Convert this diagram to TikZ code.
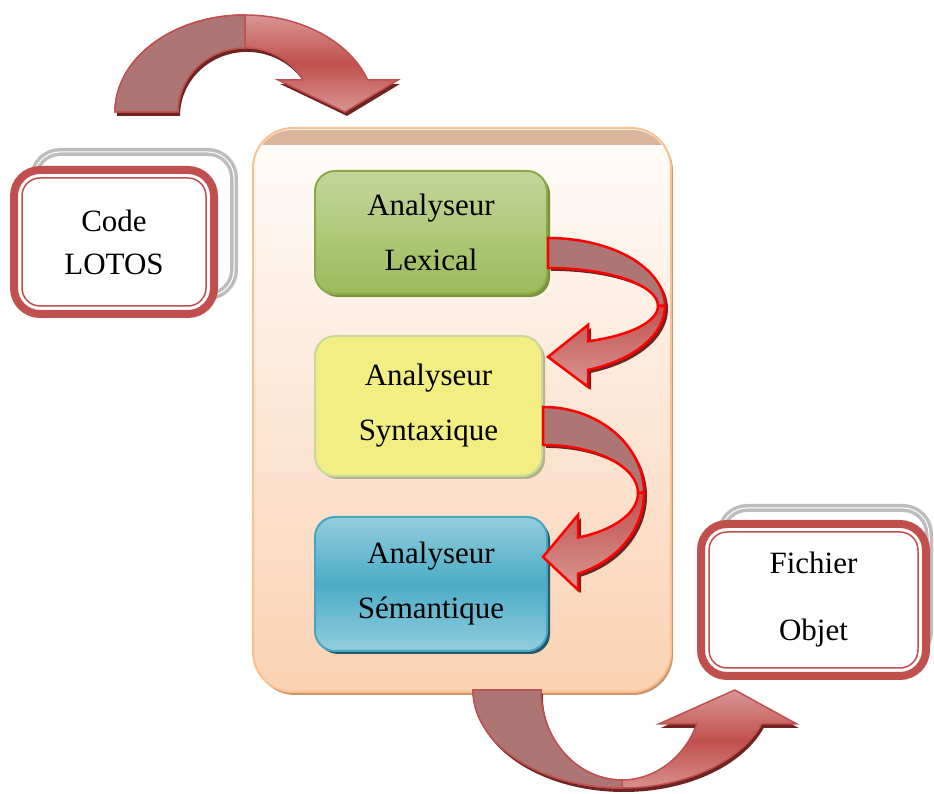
\documentclass[tikz,border=0pt]{standalone}
\usepackage{fontspec}
\setmainfont{Liberation Serif}
\usetikzlibrary{shadows,positioning}

\definecolor{redbox}{HTML}{C0504D}
\definecolor{mauve}{HTML}{AD7573}
\definecolor{redlight}{HTML}{D99694}
\definecolor{redshadow}{HTML}{6E2422}
\definecolor{greenlight}{HTML}{C3D69B}
\definecolor{greendark}{HTML}{9BBB59}
\definecolor{greenline}{HTML}{8AAA4A}
\definecolor{greenshadow}{HTML}{76923C}
\definecolor{yellowfill}{HTML}{F2EE82}
\definecolor{yellowline}{HTML}{C9D89E}
\definecolor{yellowshadow}{HTML}{B5B389}
\definecolor{bluelight}{HTML}{93CDDD}
\definecolor{bluemid}{HTML}{4BACC6}
\definecolor{blueline}{HTML}{4AA3BF}
\definecolor{blueshadow}{HTML}{215968}
\definecolor{peachtop}{HTML}{FFFDFB}
\definecolor{peachbot}{HTML}{FAD2B3}
\definecolor{peachline}{HTML}{FAC090}
\definecolor{peachband}{HTML}{D8B59C}
\definecolor{peachshadow}{HTML}{C8976F}
\definecolor{greyback}{HTML}{BDBDBD}

\tikzset{
  analyseur/.style={rounded corners=20pt, line width=2pt, align=center,
    font=\fontsize{31}{55}\selectfont, inner sep=0pt},
  cadre/.style={rounded corners=26pt, draw=redbox, line width=8pt, fill=white,
    align=center, inner sep=0pt, outer sep=0pt, minimum height=144pt},
  dos/.style={rounded corners=26pt, draw=greyback, line width=3.5pt,
    double=white, double distance=1pt, fill=white, minimum height=144pt},
  ruban/.style={draw=redbox, line width=1.5pt},
  virage/.style={draw=red, line width=2.5pt},
  ombre/.style={drop shadow={shadow xshift=#1, shadow yshift=-3pt,
    fill=redshadow, opacity=1}}
}

\begin{document}
\begin{tikzpicture}[x=1pt,y=1pt]
\useasboundingbox (0,0) rectangle (934,794);

% entree et sortie
\node[dos, minimum width=200pt] (codedos) at (134,570) {};
\node[cadre, minimum width=200pt, font=\fontsize{31}{43}\selectfont] (code) at (114,552) {Code\\LOTOS};
\draw[redbox, line width=1.5pt, rounded corners=18pt] ([shift={(8,8)}]code.south west) rectangle ([shift={(-8,-8)}]code.north east);

\node[dos, minimum width=208pt, minimum height=150pt] (objdos) at (825,211) {};
\node[cadre, minimum width=225pt, minimum height=152pt, font=\fontsize{31}{67}\selectfont] (obj) at (813.5,194) {Fichier\\Objet};
\draw[redbox, line width=1.5pt, rounded corners=18pt] ([shift={(8,8)}]obj.south west) rectangle ([shift={(-8,-8)}]obj.north east);

% compilateur
\node[rounded corners=40pt, draw=peachline, line width=2pt, top color=peachtop, bottom color=peachbot,
  minimum width=418pt, minimum height=564pt,
  drop shadow={shadow xshift=2pt, shadow yshift=-3pt, fill=peachshadow, opacity=1}] (cont) at (462,384) {};
\begin{scope}
\clip[rounded corners=37pt] ([shift={(3,3)}]cont.south west) rectangle ([shift={(-3,-3)}]cont.north east);
\fill[peachband] ([yshift=-18]cont.north west) rectangle (cont.north east);
\end{scope}

\node[analyseur, draw=greenline, top color=greenlight, bottom color=greendark,
  minimum width=232pt, minimum height=123pt,
  drop shadow={shadow xshift=3pt, shadow yshift=-3pt, fill=greenshadow, opacity=1}] (lex) at (431,561.5) {Analyseur\\Lexical};
\node[analyseur, draw=yellowline, fill=yellowfill,
  minimum width=227pt, minimum height=140pt,
  drop shadow={shadow xshift=3pt, shadow yshift=-3pt, fill=yellowshadow, opacity=1}] (syn) at (428.5,388) {Analyseur\\Syntaxique};
\node[analyseur, draw=blueline, top color=bluelight, bottom color=bluelight, middle color=bluemid,
  minimum width=232pt, minimum height=134pt,
  drop shadow={shadow xshift=3pt, shadow yshift=-3pt, fill=blueshadow, opacity=1}] (sem) at (431,210) {Analyseur\\Sémantique};

% lexical -> syntaxique
\coordinate (a1) at (lex.east |- 0,488);
\path[ombre=3pt] (a1) ++(0,68) arc[start angle=90, end angle=-70, x radius=117, y radius=68]
  -- ++(0,-17) -- ++(-40,30) -- ++(40,32) -- ++(0,-16.4)
  arc[start angle=-68.67, end angle=90, x radius=110, y radius=38] -- cycle;
\draw[virage, fill=mauve] (a1) ++(0,68) arc[start angle=90, end angle=0, x radius=117, y radius=68]
  -- ++(-7,0) arc[start angle=0, end angle=90, x radius=110, y radius=38] -- cycle;
\draw[virage, top color=redbox, bottom color=redlight] (a1) ++(117,0)
  arc[start angle=0, end angle=-70, x radius=117, y radius=68]
  -- ++(0,-17) -- ++(-40,30) -- ++(40,32) -- ++(0,-16.4)
  arc[start angle=-68.67, end angle=0, x radius=110, y radius=38] -- cycle;

% syntaxique -> semantique
\coordinate (a2) at (syn.east |- 0,301);
\path[ombre=3pt] (a2) ++(0,86) arc[start angle=90, end angle=-69.72, x radius=101, y radius=86]
  -- ++(0,-16.3) -- ++(-35,33) -- ++(35,42) -- ++(0,-22.6)
  arc[start angle=-68.38, end angle=90, x radius=95, y radius=48] -- cycle;
\draw[virage, fill=mauve] (a2) ++(0,86) arc[start angle=90, end angle=0, x radius=101, y radius=86]
  -- ++(-6,0) arc[start angle=0, end angle=90, x radius=95, y radius=48] -- cycle;
\draw[virage, top color=redbox, bottom color=redlight] (a2) ++(101,0)
  arc[start angle=0, end angle=-69.72, x radius=101, y radius=86]
  -- ++(0,-16.3) -- ++(-35,33) -- ++(35,42) -- ++(0,-22.6)
  arc[start angle=-68.38, end angle=0, x radius=95, y radius=48] -- cycle;

% code -> compilateur
\coordinate (h) at (245,682);
\draw[ruban, top color=redlight, bottom color=redlight, middle color=redbox,
  drop shadow={shadow xshift=2pt, shadow yshift=-4pt, fill=redshadow, opacity=1}]
  (h) ++(-130,0) arc[start angle=180, end angle=19.3, x radius=130, y radius=97]
  -- ++(30.3,0) -- ++(-53,-32) -- ++(-67,32) -- ++(25,0)
  arc[start angle=30, end angle=180, x radius=67, y radius=64] -- cycle;
\draw[ruban, fill=mauve] (h) ++(-130,0) arc[start angle=180, end angle=90, x radius=130, y radius=97]
  -- ++(0,-33) arc[start angle=90, end angle=180, x radius=67, y radius=64] -- cycle;

% compilateur -> objet
\coordinate (b) at (622,104);
\draw[ruban, top color=redlight, bottom color=redlight, middle color=redbox,
  drop shadow={shadow xshift=2pt, shadow yshift=-4pt, fill=redshadow, opacity=1}]
  (b) ++(-149,0) arc[start angle=180, end angle=339.7, x radius=149, y radius=98]
  -- ++(35,0) -- ++(-62,34) -- ++(-76,-34) -- ++(38,0)
  arc[start angle=337.8, end angle=180, x radius=81, y radius=90] -- cycle;
\draw[ruban, fill=mauve] (b) ++(-149,0) arc[start angle=180, end angle=270, x radius=149, y radius=98]
  -- ++(0,8) arc[start angle=270, end angle=180, x radius=81, y radius=90] -- cycle;
\end{tikzpicture}
\end{document}
